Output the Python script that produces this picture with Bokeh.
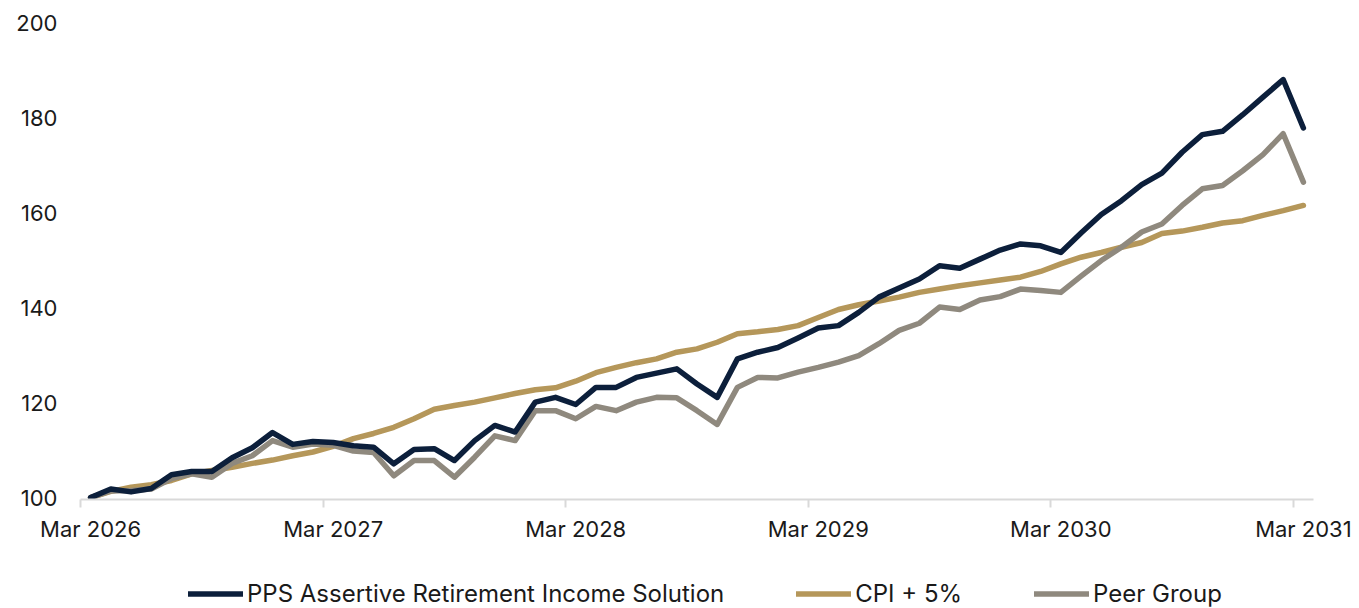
from bokeh.plotting import figure
from bokeh.layouts import column
from bokeh.models import Range1d, FixedTicker, Legend, LegendItem, ColumnDataSource
from bokeh.embed import file_html
from bokeh.resources import INLINE

# ---- data ----
tick_labels = ["Mar 2026", "Mar 2027", "Mar 2028", "Mar 2029", "Mar 2030", "Mar 2031"]
series_names = ["PPS Assertive Retirement Income Solution", "CPI + 5%", "Peer Group"]

pps = [100.0, 101.8, 101.2, 101.9, 104.8, 105.5, 105.5, 108.4, 110.5, 113.7,
       111.2, 111.8, 111.6, 110.9, 110.6, 107.1, 110.1, 110.3, 107.8, 112.0,
       115.2, 113.8, 120.1, 121.1, 119.6, 123.2, 123.2, 125.3, 126.2, 127.1,
       123.9, 121.1, 129.2, 130.6, 131.6, 133.6, 135.7, 136.2, 139.0, 142.2,
       144.1, 146.0, 148.8, 148.3, 150.2, 152.1, 153.4, 153.0, 151.6, 155.7,
       159.6, 162.5, 165.9, 168.3, 172.7, 176.4, 177.1, 180.6, 184.3, 188.0,
       177.8]
cpi5 = [100.0, 101.3, 102.2, 102.7, 103.6, 105.0, 105.7, 106.4, 107.2, 107.9,
        108.8, 109.6, 110.8, 112.4, 113.5, 114.8, 116.6, 118.6, 119.4, 120.1,
        121.0, 121.9, 122.7, 123.1, 124.5, 126.3, 127.4, 128.4, 129.2, 130.6,
        131.3, 132.7, 134.5, 134.9, 135.4, 136.2, 137.9, 139.6, 140.6, 141.4,
        142.2, 143.2, 143.9, 144.6, 145.2, 145.8, 146.4, 147.6, 149.2, 150.6,
        151.6, 152.7, 153.7, 155.6, 156.1, 156.9, 157.8, 158.3, 159.4, 160.4,
        161.5]
peer = [100.0, 101.4, 101.5, 101.8, 104.0, 105.0, 104.3, 107.2, 108.8, 112.0,
        110.6, 111.3, 111.0, 109.8, 109.5, 104.6, 107.8, 107.8, 104.3, 108.5,
        113.0, 112.0, 118.3, 118.3, 116.6, 119.2, 118.3, 120.1, 121.1, 121.0,
        118.3, 115.4, 123.2, 125.3, 125.2, 126.4, 127.4, 128.5, 129.9, 132.4,
        135.2, 136.7, 140.1, 139.6, 141.6, 142.3, 143.9, 143.6, 143.2, 146.6,
        149.9, 152.7, 155.9, 157.6, 161.5, 165.0, 165.7, 168.8, 172.2, 176.6,
        166.4]
months = list(range(len(pps)))

colors = ["#0c1f3b", "#b5975a", "#8f897e"]
FONT = "Inter"
LW = 5.5
TEXT = "#1a1a1a"

W = 1359
LEG_H = 50
MAIN_H = 608 - LEG_H

p = figure(width=W, height=MAIN_H, output_backend="svg", toolbar_location=None,
           x_range=Range1d(-0.5, len(months) - 0.5), y_range=Range1d(99.6, 200.01),
           min_border_left=80, min_border_right=46, min_border_top=22,
           min_border_bottom=MAIN_H - 499)
p.outline_line_color = None
p.xgrid.visible = False
p.ygrid.visible = False

src = ColumnDataSource(dict(x=months, pps=pps, cpi=cpi5, peer=peer))
p.line("x", "cpi", source=src, line_color=colors[1], line_width=LW,
       line_join="round", line_cap="round")
p.line("x", "peer", source=src, line_color=colors[2], line_width=LW,
       line_join="round", line_cap="round")
p.line("x", "pps", source=src, line_color=colors[0], line_width=LW,
       line_join="round", line_cap="round")

# x axis
major = list(range(0, len(months), 12))
p.xaxis.ticker = FixedTicker(ticks=major, minor_ticks=[m - 0.5 for m in major])
p.xaxis.major_label_overrides = {m: lab for m, lab in zip(major, tick_labels)}
p.xaxis.axis_line_color = "#d9d9d9"
p.xaxis.axis_line_width = 2
p.xaxis.major_tick_line_color = None
p.xaxis.major_tick_out = 0
p.xaxis.major_tick_in = 0
p.xaxis.minor_tick_line_color = "#d9d9d9"
p.xaxis.minor_tick_line_width = 2
p.xaxis.minor_tick_in = 0
p.xaxis.minor_tick_out = 8
p.xaxis.major_label_standoff = 8
p.xaxis.major_label_text_font = FONT
p.xaxis.major_label_text_font_size = "22px"
p.xaxis.major_label_text_color = TEXT

# y axis
p.yaxis.ticker = FixedTicker(ticks=[100, 120, 140, 160, 180, 200])
p.yaxis.axis_line_color = None
p.yaxis.major_tick_line_color = None
p.yaxis.minor_tick_line_color = None
p.yaxis.major_tick_out = 0
p.yaxis.major_tick_in = 0
p.yaxis.major_label_standoff = 23
p.yaxis.major_label_text_font = FONT
p.yaxis.major_label_text_font_size = "22px"
p.yaxis.major_label_text_color = TEXT

# legend strip (separate figure underneath; proxies carry only the styles)
lg = figure(width=W, height=LEG_H, output_backend="svg", toolbar_location=None,
            x_range=Range1d(0, 1), y_range=Range1d(0, 1),
            x_axis_location=None, y_axis_location=None,
            min_border_left=0, min_border_right=0, min_border_top=0, min_border_bottom=0)
lg.outline_line_color = None
lg.xgrid.visible = False
lg.ygrid.visible = False
nan = float("nan")
proxies = [lg.line(x=[nan], y=[nan], line_color=c, line_width=LW, line_cap="round")
           for c in colors]
legend = Legend(items=[LegendItem(label=n, renderers=[r]) for n, r in zip(series_names, proxies)],
                location=(108, 0), orientation="horizontal",
                glyph_width=55, glyph_height=11, label_height=11, label_standoff=4,
                spacing=72, padding=0, margin=0, border_line_color=None,
                background_fill_alpha=0,
                label_text_font=FONT, label_text_font_size="24px",
                label_text_color=TEXT)
lg.add_layout(legend, "center")

layout = column(p, lg, spacing=0)
open("out.html", "w").write(file_html(layout, INLINE))
